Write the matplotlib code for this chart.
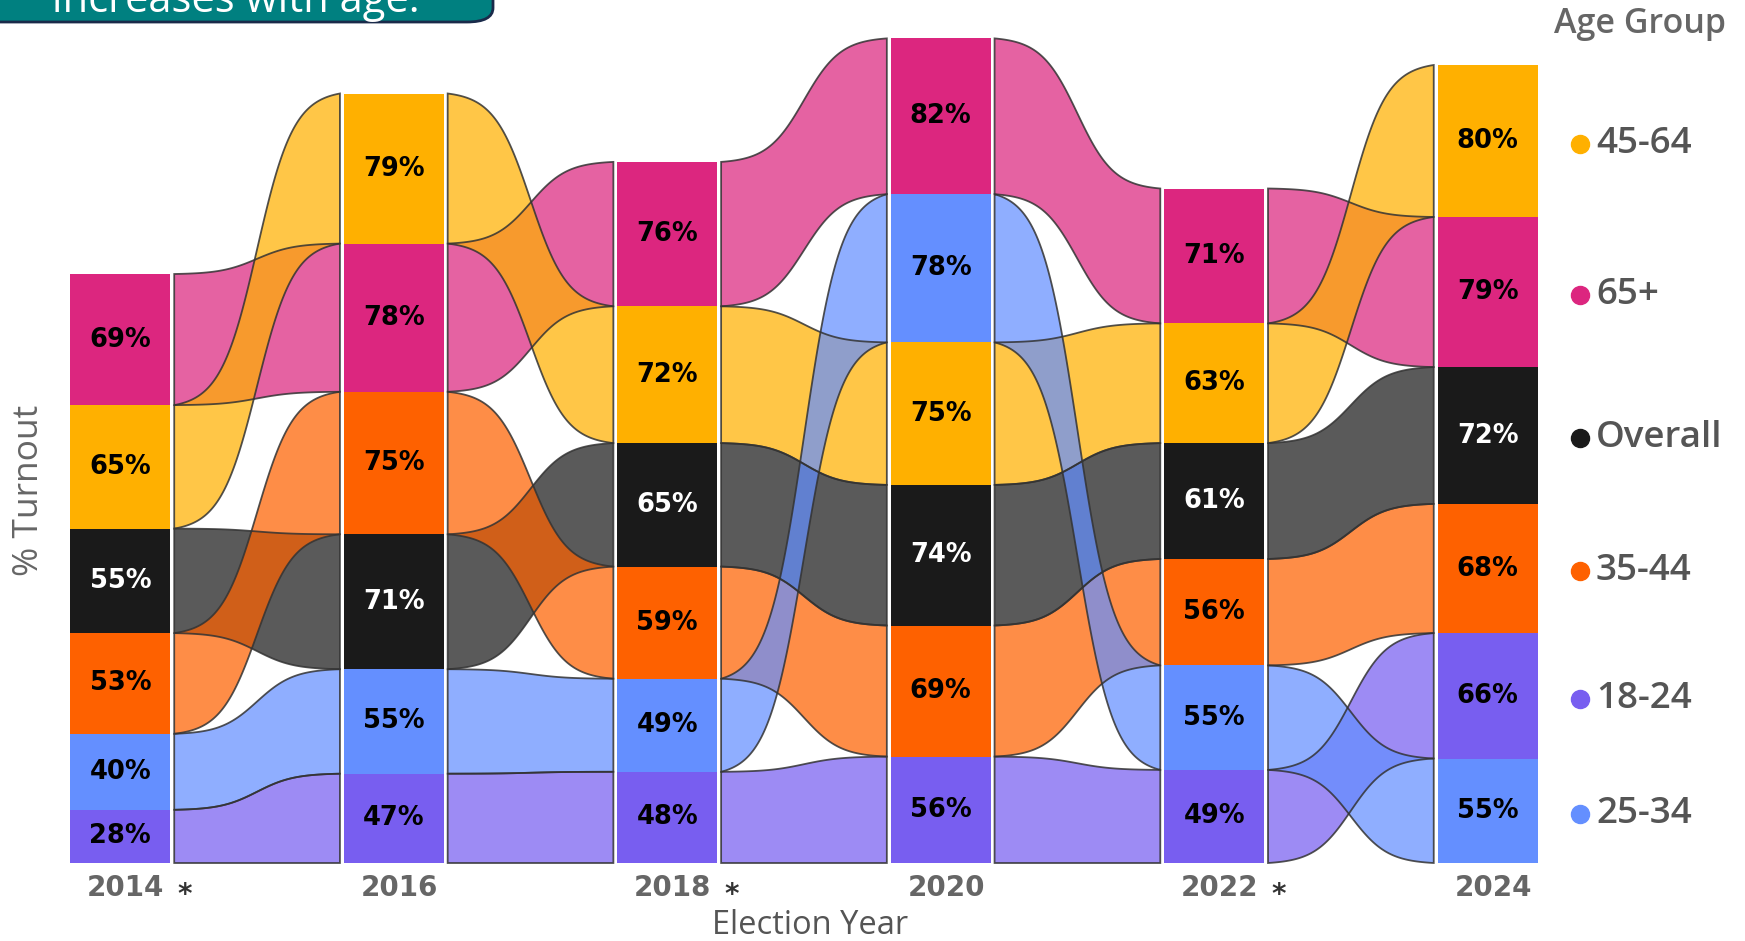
import numpy as np
import matplotlib.pyplot as plt
from matplotlib.patches import Polygon, FancyBboxPatch

# Data
years = ['2014', '2016', '2018', '2020', '2022', '2024']
starred = [True, False, True, False, True, False]
groups = ['45-64', '65+', 'Overall', '35-44', '18-24', '25-34']
t_45_64 = [65, 79, 72, 75, 63, 80]
t_65 = [69, 78, 76, 82, 71, 79]
t_overall = [55, 71, 65, 74, 61, 72]
t_35_44 = [53, 75, 59, 69, 56, 68]
t_18_24 = [28, 47, 48, 56, 49, 66]
t_25_34 = [40, 55, 49, 78, 55, 55]

turnout = dict(zip(groups, [t_45_64, t_65, t_overall, t_35_44, t_18_24, t_25_34]))
colors = {'45-64': '#FFB000', '65+': '#DC267F', 'Overall': '#1A1A1A',
          '35-44': '#FE6100', '18-24': '#785EF0', '25-34': '#648FFF'}
ribbon_order = ['65+', '45-64', 'Overall', '35-44', '18-24', '25-34']

# stack each year: largest value on top
n = len(years)
bottoms = {g: [0] * n for g in groups}
for i in range(n):
    order = sorted(groups, key=lambda g: turnout[g][i])
    b = 0
    for g in order:
        bottoms[g][i] = b
        b += turnout[g][i]

W, H = 1745, 941
fig = plt.figure(figsize=(W / 100, H / 100), dpi=100)
ax = fig.add_axes([0, 0, 1, 1])
x0px, step = 120.35, 273.45
ybase, scale = 863, 1.9
ax.set_xlim(-x0px / step, (W - x0px) / step)
ax.set_ylim((ybase - H) / scale, ybase / scale)
ax.axis('off')

bar_w = 0.366
gap = 0.197

# ribbons
t = np.linspace(0, 1, 120)
k = 9.0
s = 1 / (1 + np.exp(-k * (t - 0.5)))
s = (s - s[0]) / (s[-1] - s[0])
xs = np.linspace(gap, 1 - gap, len(t))
for g in ribbon_order:
    for i in range(n - 1):
        b0, b1 = bottoms[g][i], bottoms[g][i + 1]
        top0, top1 = b0 + turnout[g][i], b1 + turnout[g][i + 1]
        yt = top0 + (top1 - top0) * s
        yb = b0 + (b1 - b0) * s
        pts = np.vstack([np.column_stack([i + xs, yt]),
                         np.column_stack([(i + xs)[::-1], yb[::-1]])])
        ax.add_patch(Polygon(pts, closed=True, facecolor=colors[g], alpha=0.72,
                             edgecolor='none', zorder=2))
        ax.add_patch(Polygon(pts, closed=True, facecolor='none',
                             edgecolor=(0.2, 0.2, 0.2, 0.85), lw=1.3, zorder=3))

# bars
for g in groups:
    ax.bar(range(n), turnout[g], bottom=bottoms[g], width=bar_w,
           color=colors[g], linewidth=0, zorder=4)
    for i in range(n):
        ax.text(i, bottoms[g][i] + turnout[g][i] / 2, f'{turnout[g][i]}%',
                ha='center', va='center', fontsize=18.5, fontweight='bold',
                color='white' if g == 'Overall' else 'black', zorder=5)

# x tick labels
ylab = -13.2
for i, yr in enumerate(years):
    ax.text(i + 0.02, ylab, yr, ha='center', va='center', fontsize=20,
            fontweight='bold', color='#666666')
    if starred[i]:
        ax.text(i + 0.235, ylab - 3.5, '*', ha='center', va='center',
                fontsize=20, fontweight='bold', color='#333333')

fig.text(810 / W, 1 - 925 / H, 'Election Year', ha='center', va='center',
         fontsize=23.5, family='Open Sans', color='#555555')
fig.text(29 / W, 1 - 490 / H, '% Turnout', ha='center', va='center',
         rotation=90, fontsize=25.5, family='Open Sans', color='#666666')

# legend at the right, aligned with the last column
fig.text(1640 / W, 1 - 24 / H, 'Age Group', ha='center', va='center',
         fontsize=24.5, family='Open Sans', fontweight='semibold', color='#666666')
last = n - 1
for g in groups:
    yc = bottoms[g][last] + turnout[g][last] / 2 - 1.5
    ax.plot([(1580 - x0px) / step], [yc], 'o', color=colors[g], markersize=13,
            clip_on=False)
    ax.text((1596 - x0px) / step, yc, g, ha='left', va='center', fontsize=26.5,
            family='Open Sans', fontweight='semibold', color='#555555')

# cut-off header box in the top-left corner
box = FancyBboxPatch((-30 / W, 1 - 22 / H), 523 / W, 80 / H,
                     boxstyle='round,pad=0,rounding_size=0.015',
                     transform=fig.transFigure, facecolor='#008080',
                     edgecolor='#1A2A4A', lw=2, clip_on=False)
fig.add_artist(box)
fig.text(52 / W, 1 - 12.5 / H, 'increases with age.', ha='left', va='baseline',
         fontsize=30, family='Open Sans', color='white')

fig.savefig('out.png', dpi=100)
